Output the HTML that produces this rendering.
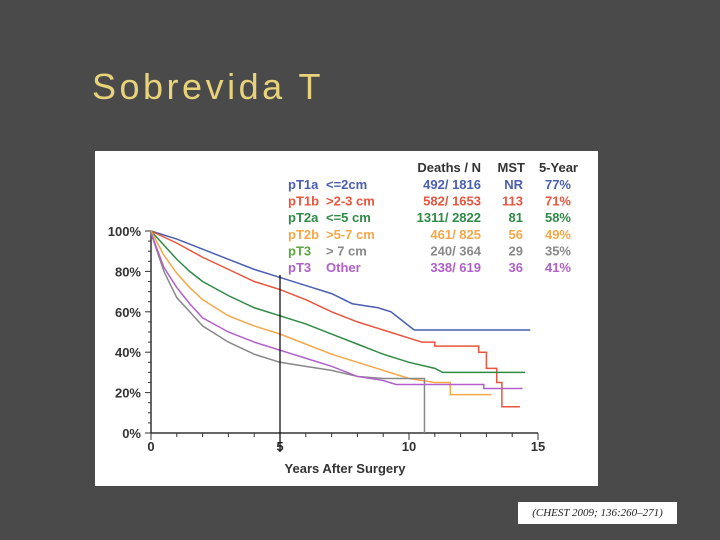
<!DOCTYPE html>
<html><head><meta charset="utf-8"><style>
body{margin:0;width:720px;height:540px;background:#4a4a4a;overflow:hidden;position:relative;font-family:"Liberation Sans",sans-serif}
#title{position:absolute;left:92px;top:66px;font-size:36px;color:#e8d27a;letter-spacing:3.5px}
#cite{position:absolute;left:518px;top:502px;width:159px;height:22px;background:#fff;font-family:"Liberation Serif",serif;font-style:italic;font-size:11px;line-height:22px;text-align:center;color:#222}
svg{position:absolute;left:0;top:0}
</style></head><body>
<div id="title">Sobrevida T</div>
<div id="cite">(CHEST 2009; 136:260–271)</div>
<svg id="c" width="720" height="540"></svg>
<script>
const names=["pT1a","pT1b","pT2a","pT2b","pT3","pT3"];
const sizes=["<=2cm",">2-3 cm","<=5 cm",">5-7 cm","> 7 cm","Other"];
const deaths=["492/ 1816","582/  1653","1311/ 2822","461/   825","240/   364","338/   619"];
const mst=["NR","113","81","56","29","36"];
const fiveYear=["77%","71%","58%","49%","35%","41%"];
const colors=["#4a5fb0","#e8553e","#2f8a45","#f5a84a","#888888","#b060c8"];
const nameColors=["#4a5fb0","#e8553e","#2f8a45","#f5a84a","#5aaa40","#b060c8"];
const sizeColors=["#4a5fb0","#e8553e","#2f8a45","#f5a84a","#888888","#b060c8"];
const yTicks=[0,20,40,60,80,100];
const xTicks=[0,5,10,15];
const s1=[[0,100],[1,96],[2,91],[3,86],[4,81],[5,77],[6,73],[7,69],[7.8,64],[8.8,62],[9.3,60],[9.8,55],[10.2,51],[14.7,51]];
const s2=[[0,100],[1,94],[2,87],[3,81],[4,75],[5,71],[6,66],[7,60],[8,55],[9,51],[10,47],[10.5,45],[11,45],[11,43],[12.7,43],[12.7,40],[13,40],[13,32],[13.4,32],[13.4,25],[13.6,25],[13.6,13],[14.3,13]];
const s3=[[0,100],[0.5,93],[1,86],[1.5,80],[2,75],[3,68],[4,62],[5,58],[6,54],[7,49],[8,44],[9,39],[10,35],[11,32],[11.3,30],[14.5,30]];
const s4=[[0,100],[0.5,88],[1,79],[1.5,72],[2,66],[3,58],[4,53],[5,49],[6,44],[7,39],[8,35],[9,31],[10,27],[11,25],[11.6,25],[11.6,19],[13.2,19]];
const sGray=[[0,99],[0.5,80],[1,67],[1.5,60],[2,53],[3,45],[4,39],[5,35],[6,33],[7,31],[8,28],[9,27],[10.6,27],[10.6,0]];
const sPurple=[[0,99],[0.5,82],[1,72],[1.5,64],[2,57],[3,50],[4,45],[5,41],[6,37],[7,33],[8,28],[9,26],[9.5,24],[12.9,24],[12.9,22],[14.4,22]];
const series=[s1,s2,s3,s4,sGray,sPurple];
const X=v=>151+v*25.8, Y=v=>433-v*2.02;
const svg=document.getElementById('c'),NS="http://www.w3.org/2000/svg";
function mk(t,a,p){const e=document.createElementNS(NS,t);for(const k in a)e.setAttribute(k,a[k]);(p||svg).appendChild(e);return e;}
const bg=mk('rect',{x:95,y:151,width:503,height:335,fill:'#fff'});


const ax=mk('path',{d:`M${X(0)} ${Y(100)}V${Y(0)}H${X(15)}`,stroke:'#333',fill:'none','stroke-width':1.5});


for(let v=0;v<=100;v+=5){mk('line',{x1:X(0)-(v%20?3:6),x2:X(0),y1:Y(v),y2:Y(v),stroke:'#333'});}
for(let v=0;v<=15;v++){mk('line',{x1:X(v),x2:X(v),y1:Y(0),y2:Y(0)+(v%5?4:7),stroke:'#333'});}
yTicks.forEach(v=>{const t=mk('text',{x:X(0)-10,y:Y(v)+5,'text-anchor':'end','font-size':13,'font-weight':'bold',fill:'#333'});t.textContent=v+'%';

});
xTicks.forEach(v=>{const t=mk('text',{x:X(v),y:Y(0)+18,'text-anchor':'middle','font-size':13,'font-weight':'bold',fill:'#333'});t.textContent=v;

});
const xt=mk('text',{x:345,y:473,'text-anchor':'middle','font-size':13,'font-weight':'bold',fill:'#333'});xt.textContent='Years After Surgery';


series.forEach((s,i)=>{const p=mk('polyline',{points:s.map(q=>X(q[0])+','+Y(q[1])).join(' '),fill:'none',stroke:colors[i],'stroke-width':1.5});

});
const vl=mk('line',{x1:280,x2:280,y1:275,y2:452,stroke:'#000','stroke-width':1.2});


const hd=[['Deaths / N',481],['MST',525],['5-Year',578]];
hd.forEach(h=>{const t=mk('text',{x:h[1],y:172,'text-anchor':'end','font-size':13,'font-weight':'bold',fill:'#333'});t.textContent=h[0];

});
names.forEach((n,i)=>{const y=189+i*16.6;
const cols=[[n,288,'start',nameColors[i]],[sizes[i],326,'start',sizeColors[i]],[deaths[i],481,'end',colors[i]],[mst[i],523,'end',colors[i]],[fiveYear[i],571,'end',colors[i]]];
cols.forEach(c=>{const t=mk('text',{x:c[1],y:y,'text-anchor':c[2],'font-size':13,'font-weight':'bold',fill:c[3],'xml:space':'preserve'});t.textContent=c[0];

});});
</script>
</body></html>
